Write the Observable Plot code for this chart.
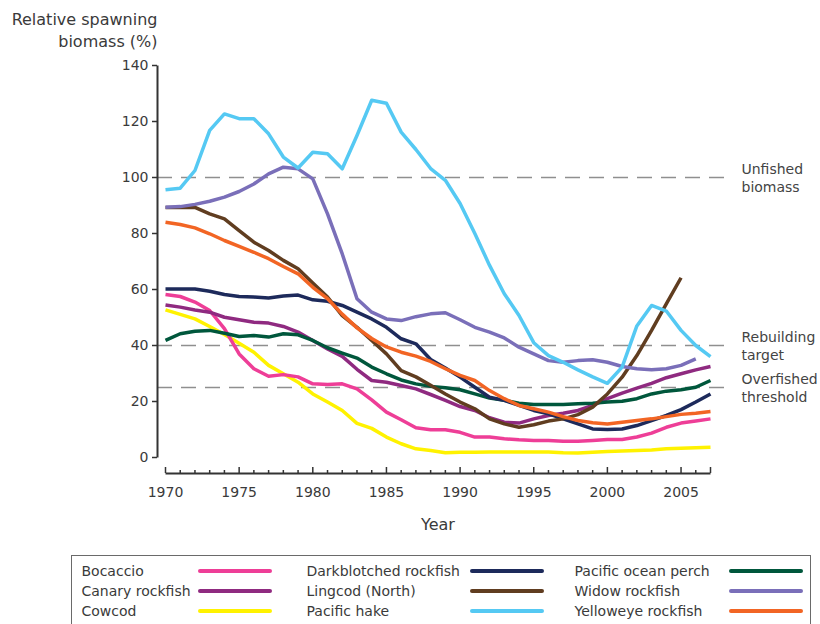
<!DOCTYPE html>
<html>
<head>
<meta charset="utf-8">
<script src="https://cdn.jsdelivr.net/npm/d3@7"></script>
<script src="https://cdn.jsdelivr.net/npm/@observablehq/plot@0.6"></script>
<style>
  html, body { margin: 0; padding: 0; background: #fff; }
  #wrap { position: relative; width: 820px; height: 624px; overflow: hidden; font-family: 'DejaVu Sans', sans-serif; }
  #legend { position: absolute; left: 71px; top: 555px; width: 740px; height: 90px; border: 1.5px solid #6a6a6a; box-sizing: border-box; }
  .lt { position: absolute; font-size: 14px; color: #3a3a3a; line-height: 20px; white-space: nowrap; }
  .ls { position: absolute; width: 74px; height: 4px; border-radius: 2px; }
</style>
</head>
<body>
<div id="wrap"><div id="chart"></div><div id="legend"></div></div>
<script>
const years = d3.range(1970, 2008);

const speciesNames = ["Bocaccio", "Canary rockfish", "Cowcod", "Darkblotched rockfish", "Lingcod (North)", "Pacific hake", "Pacific ocean perch", "Widow rockfish", "Yelloweye rockfish"];
const speciesColors = ["#ee3e97", "#8f2a80", "#fff200", "#1d2a5b", "#603d20", "#55c9f3", "#00573c", "#7a6fb9", "#f26524"];

const bocaccio = [58.2, 57.5, 55.5, 52.5, 46, 37, 31.7, 29, 29.6, 28.8, 26.3, 26.1, 26.3, 24.5, 20.6, 16.2, 13.5, 10.6, 9.9, 9.9, 9, 7.3, 7.3, 6.7, 6.3, 6.1, 6.1, 5.8, 5.8, 6.1, 6.4, 6.4, 7.3, 8.7, 10.8, 12.3, 13, 13.8];
const canary = [54.5, 53.7, 52.7, 51.9, 50.1, 49.2, 48.3, 48, 46.8, 44.8, 41.8, 38.8, 36.1, 31.5, 27.5, 26.9, 25.7, 24.5, 22.5, 20.4, 18.2, 16.8, 14.2, 12.6, 12.3, 13.8, 15, 15.8, 16.8, 18.6, 21, 23, 24.8, 26.5, 28.5, 29.9, 31.3, 32.5];
const cowcod = [52.7, 51.1, 49.5, 46.8, 43.9, 40.8, 37.6, 32.9, 29.9, 26.9, 22.7, 19.8, 16.8, 12.2, 10.4, 7.3, 4.9, 3.1, 2.5, 1.7, 1.9, 1.9, 2, 2, 2, 2, 2, 1.7, 1.6, 1.9, 2.1, 2.3, 2.5, 2.7, 3.1, 3.3, 3.5, 3.7];
const darkblotched = [60.2, 60.2, 60.2, 59.4, 58.2, 57.5, 57.3, 57, 57.7, 58, 56.3, 55.8, 54.3, 51.9, 49.5, 46.5, 42.4, 40.6, 35, 32, 28.7, 25.1, 21.5, 20.4, 18.6, 16.8, 15.6, 13.8, 12, 10.2, 10, 10.2, 11.4, 13.2, 15, 17.1, 19.8, 22.7];
const lingcod = [89.3, 89.3, 89.3, 87, 85.2, 81, 76.9, 73.9, 70.4, 67.4, 62.3, 57.3, 50.7, 46.5, 41.8, 37, 31, 28.8, 25.8, 22.7, 19.8, 17.4, 13.8, 12, 10.8, 11.7, 13, 13.8, 15.3, 18, 22.7, 28.7, 36.4, 45.4, 54.9, 64.2];
const hake = [95.6, 96.2, 102.5, 116.8, 122.7, 121, 121, 115.6, 107.3, 103.4, 109, 108.5, 103.1, 115, 127.6, 126.5, 116.2, 110, 103.2, 99, 90.7, 80, 68.6, 58.5, 50.7, 41, 36.4, 34, 31.3, 28.8, 26.5, 32.3, 47, 54.3, 52.3, 45.4, 40, 36];
const pop = [41.8, 44.2, 45.1, 45.4, 44.4, 43.2, 43.6, 43, 44.2, 43.8, 41.8, 39.2, 37.3, 35.5, 32.3, 29.9, 27.7, 26.3, 25.4, 24.9, 24.2, 22.7, 21.2, 20.4, 19.4, 18.9, 18.9, 18.9, 19.2, 19.4, 19.8, 20.1, 21, 22.7, 23.7, 24.2, 25.1, 27.5];
const widow = [89.4, 89.6, 90.4, 91.5, 93, 95, 97.7, 101.3, 103.7, 103.1, 99.5, 87, 72.7, 56.7, 51.9, 49.5, 48.9, 50.3, 51.3, 51.7, 49.2, 46.5, 44.8, 42.7, 39.4, 37, 34.6, 34, 34.6, 34.9, 34, 32.5, 31.7, 31.3, 31.7, 32.9, 35.2];
const yelloweye = [84, 83.2, 82, 79.9, 77.5, 75.4, 73.3, 71, 68.2, 65.6, 60.8, 56.7, 51.2, 46.3, 42.5, 39.5, 37.6, 36.2, 34.3, 31.7, 29.3, 27.5, 23.9, 21, 18.6, 17.4, 16.2, 14.6, 13.2, 12.4, 12, 12.6, 13.2, 13.8, 14.6, 15.4, 15.8, 16.4];

const seriesValues = [bocaccio, canary, cowcod, darkblotched, lingcod, hake, pop, widow, yelloweye];
const drawOrder = ["Cowcod", "Bocaccio", "Canary rockfish", "Pacific ocean perch", "Darkblotched rockfish", "Lingcod (North)", "Yelloweye rockfish", "Widow rockfish", "Pacific hake"];

const thresholdValues = [100, 40, 25];
const thresholdLabels = ["Unfished\nbiomass", "Rebuilding\ntarget", "Overfished\nthreshold"];

const yTicks = [0, 20, 40, 60, 80, 100, 120, 140];
const xTickLabels = [1970, 1975, 1980, 1985, 1990, 1995, 2000, 2005];
const majorTicks = [1970, 1975, 1980, 1985, 1990, 1995, 2000, 2005, 2007];
const minorTicks = years.filter(y => !majorTicks.includes(y));

const data = [];
drawOrder.forEach(name => {
  const i = speciesNames.indexOf(name);
  seriesValues[i].forEach((v, j) => data.push({species: name, year: years[j], value: v}));
});

const thresholds = thresholdValues.map((v, i) => ({value: v, label: thresholdLabels[i]}));

const xStart = years[0], xEnd = years[years.length - 1];
const yMin = yTicks[0], yMax = yTicks[yTicks.length - 1];
const axisColor = "#333333";
const yAxisLine = [{x: xStart, y1: yMin, y2: yMax}];
const xAxisLine = [{y: yMin, x1: xStart, x2: xEnd}];
const chart = Plot.plot({
  width: 820,
  height: 550,
  marginLeft: 157,
  marginRight: 110,
  marginTop: 65,
  marginBottom: 77,
  style: {fontFamily: "'DejaVu Sans', sans-serif", fontSize: "14px", color: "#3a3a3a", background: "white"},
  x: {domain: [xStart, xEnd], range: [165, 710]},
  y: {domain: [yMin, yMax], range: [457, 65]},
  color: {domain: speciesNames, range: speciesColors},
  marks: [
    Plot.ruleY(thresholds, {y: "value", stroke: "#8f8f8f", strokeWidth: 1.3, strokeDasharray: "15,9", insetRight: -21}),
    Plot.link(yAxisLine, {x1: "x", x2: "x", y1: "y1", y2: "y2", dx: -8, stroke: axisColor, strokeWidth: 2}),
    Plot.link(xAxisLine, {x1: "x1", x2: "x2", y1: "y", y2: "y", dy: 16, stroke: axisColor, strokeWidth: 2}),
    Plot.ruleX(majorTicks, {x: d => d, y1: yMin, y2: yMin, insetTop: -6, dy: 16, stroke: axisColor, strokeWidth: 1.5}),
    Plot.ruleX(minorTicks, {x: d => d, y1: yMin, y2: yMin, insetTop: -3, dy: 16, stroke: axisColor, strokeWidth: 1.5}),
    Plot.axisY({ticks: yTicks, tickSize: 5, tickPadding: 4, label: null, stroke: axisColor, strokeWidth: 1.5}),
    Plot.axisX({ticks: xTickLabels, tickSize: 0, tickPadding: 14, tickFormat: d => String(d), label: null}),
    Plot.line(data, {x: "year", y: "value", z: "species", stroke: "species", strokeWidth: 3.5, strokeLinejoin: "round", strokeLinecap: "butt"}),
    Plot.text(thresholds, {y: "value", text: "label", frameAnchor: "right", dx: 31, textAnchor: "start", lineHeight: 1.3, fill: "#444"}),
    Plot.text(["Relative spawning\nbiomass (%)"], {frameAnchor: "top-left", textAnchor: "end", lineAnchor: "top", dy: -56, fontSize: 16, lineHeight: 1.375, fill: "#3a3a3a"}),
    Plot.text(["Year"], {frameAnchor: "bottom", dy: 56, dx: 4, fontSize: 16, fill: "#3a3a3a"})
  ]
});
document.getElementById("chart").appendChild(chart);

// Legend
const legendColText = [82, 307, 575];
const legendColSwatch = [198, 470, 729];
const legendRowCenter = [571, 591, 611];
const legend = document.getElementById("legend");
const innerLeft = 71 + 1.5, innerTop = 555 + 1.5;
speciesNames.forEach((name, i) => {
  const col = Math.floor(i / 3), row = i % 3;
  const t = document.createElement("div");
  t.className = "lt";
  t.textContent = name;
  t.style.left = (legendColText[col] - innerLeft) + "px";
  t.style.top = (legendRowCenter[row] - innerTop - 10) + "px";
  legend.appendChild(t);
  const s = document.createElement("div");
  s.className = "ls";
  s.style.background = speciesColors[i];
  s.style.left = (legendColSwatch[col] - innerLeft) + "px";
  s.style.top = (legendRowCenter[row] - innerTop - 2) + "px";
  legend.appendChild(s);
});
</script>
</body>
</html>
